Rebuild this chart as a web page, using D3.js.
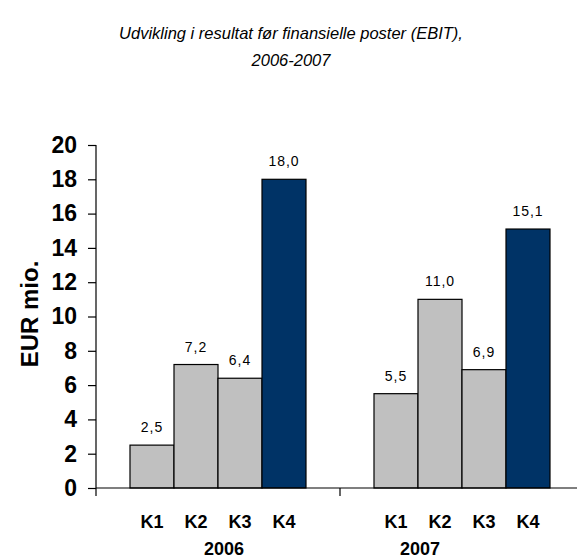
<!DOCTYPE html>
<html>
<head>
<meta charset="utf-8">
<script src="https://cdn.jsdelivr.net/npm/d3@7"></script>
<style>
  body { margin: 0; background: #fff; }
  text { font-family: Arial, "Liberation Sans", sans-serif; }
</style>
</head>
<body>
<div id="chart"></div>
<script>
var years = ["2006", "2007"];
var quarters = ["K1", "K2", "K3", "K4"];
var ebit2006 = [2.5, 7.2, 6.4, 18.0];
var ebit2007 = [5.5, 11.0, 6.9, 15.1];
var yTicks = [0, 2, 4, 6, 8, 10, 12, 14, 16, 18, 20];
var yearNudge = [6, -42];

var W = 577, H = 560;
var margin = {top: 145, right: -7, bottom: 72, left: 96},
    width = W - margin.left - margin.right,
    height = H - margin.top - margin.bottom;

var rows = [];
years.forEach(function(yr, i) {
  var vals = i === 0 ? ebit2006 : ebit2007;
  quarters.forEach(function(q, j) {
    rows.push({year: yr, q: q, value: vals[j]});
  });
});

var svg = d3.select("#chart").append("svg")
    .attr("width", W)
    .attr("height", H);

// title
svg.append("text")
    .attr("x", 291).attr("y", 39)
    .attr("text-anchor", "middle")
    .style("font-size", "16.5px").style("font-style", "italic")
    .text("Udvikling i resultat før finansielle poster (EBIT),");
svg.append("text")
    .attr("x", 291).attr("y", 66)
    .attr("text-anchor", "middle")
    .style("font-size", "16.5px").style("font-style", "italic")
    .text("2006-2007");

var g = svg.append("g")
    .attr("transform", "translate(" + margin.left + "," + margin.top + ")");

var x0 = d3.scaleBand().domain(years).range([0, width]);
var x1 = d3.scaleBand().domain(quarters).range([34, x0.bandwidth() - 34]);
var y = d3.scaleLinear().domain([0, 20]).range([height, 0]);

// bars
g.selectAll("rect.bar")
  .data(rows)
  .enter().append("rect")
    .attr("class", "bar")
    .attr("x", function(d) { return x0(d.year) + x1(d.q); })
    .attr("y", function(d) { return y(d.value); })
    .attr("width", x1.bandwidth())
    .attr("height", function(d) { return height - y(d.value); })
    .attr("fill", function(d) { return d.q === "K4" ? "#003366" : "#c0c0c0"; })
    .attr("stroke", "#000")
    .attr("stroke-width", 1.2);

// value labels
g.selectAll("text.val")
  .data(rows)
  .enter().append("text")
    .attr("class", "val")
    .attr("x", function(d) { return x0(d.year) + x1(d.q) + x1.bandwidth() / 2; })
    .attr("y", function(d) { return y(d.value) - 13; })
    .attr("text-anchor", "middle")
    .style("font-size", "14px")
    .style("letter-spacing", "1px")
    .text(function(d) { return d3.format(".1f")(d.value).replace(".", ","); });

// y axis
var yAxis = g.append("g")
    .call(d3.axisLeft(y).tickValues(yTicks).tickSize(8).tickPadding(11));
yAxis.select(".domain").attr("stroke", "#000").attr("stroke-width", 1.2)
    .attr("d", "M0," + (height + 8) + "V0");
yAxis.selectAll(".tick line").attr("stroke", "#000").attr("stroke-width", 1.2);
yAxis.selectAll(".tick text")
    .style("font-size", "23px").style("font-weight", "bold")
    .attr("fill", "#000").attr("font-family", null);

// x axis line
var xAxis = g.append("g")
    .attr("transform", "translate(0," + height + ")")
    .call(d3.axisBottom(x0).tickSize(0).tickFormat(""));
xAxis.select(".domain").attr("stroke", "#000").attr("stroke-width", 1.2)
    .attr("d", "M0,0H" + width);
// group separator tick
xAxis.append("line")
    .attr("x1", x0("2007")).attr("x2", x0("2007"))
    .attr("y1", 0).attr("y2", 8)
    .attr("stroke", "#000").attr("stroke-width", 1.2);

// quarter labels
g.selectAll("text.q")
  .data(rows)
  .enter().append("text")
    .attr("class", "q")
    .attr("x", function(d) { return x0(d.year) + x1(d.q) + x1.bandwidth() / 2; })
    .attr("y", height + 40)
    .attr("text-anchor", "middle")
    .style("font-size", "18px").style("font-weight", "bold")
    .text(function(d) { return d.q; });

// year labels
g.selectAll("text.yr")
  .data(years)
  .enter().append("text")
    .attr("class", "yr")
    .attr("x", function(d, i) { return x0(d) + x0.bandwidth() / 2 + yearNudge[i]; })
    .attr("y", height + 67)
    .attr("text-anchor", "middle")
    .style("font-size", "18px").style("font-weight", "bold")
    .text(function(d) { return d; });

// y axis title
svg.append("text")
    .attr("transform", "translate(38," + 314 + ") rotate(-90)")
    .attr("text-anchor", "middle")
    .style("font-size", "24px").style("font-weight", "bold")
    .text("EUR mio.");
</script>
</body>
</html>
